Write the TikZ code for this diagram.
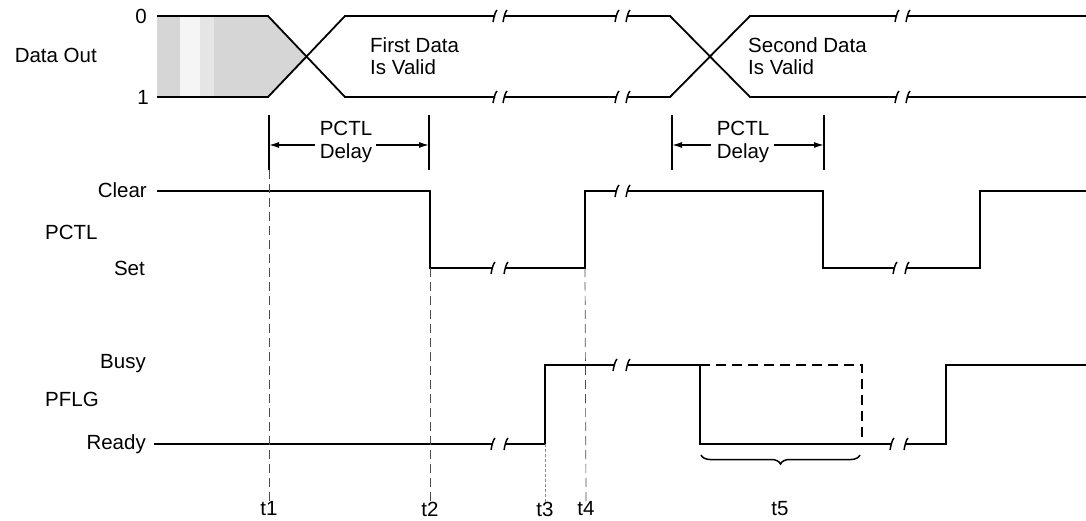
\documentclass[tikz,border=0pt]{standalone}
\usepackage{fontspec}
\setmainfont{Liberation Sans}
\usetikzlibrary{arrows.meta,decorations.pathreplacing}
\begin{document}
\begin{tikzpicture}[x=1pt,y=-1pt,
  lbl/.style={font=\fontsize{20.5}{22.5}\selectfont, inner sep=0pt},
  sig/.style={line width=1.8pt, line join=miter},
  tline/.style={line width=0.7pt, black!70, dash pattern=on 9pt off 5pt},
  dimbar/.style={line width=1.8pt},
  dimarrow/.style={line width=1.4pt, -{Latex[length=10pt,width=6pt]}},
  brk/.pic={\draw[line width=1.5pt] (-2,6) .. controls (-1,1) and (0,-4) .. (2,-6);}]
\useasboundingbox (0,0) rectangle (1086,521);
\newcommand{\brkpair}[3]{\pic at (#2,#1) {brk}; \pic at (#3,#1) {brk};}

% ---------------- Data Out ----------------
\fill[gray!32] (157,16) -- (268,16) -- (308,57) -- (268,97) -- (157,97) -- cycle;
\fill[gray!8] (180,17) rectangle (200,96);
\fill[gray!20] (200,17) rectangle (214,96);
\draw[sig] (157,16) -- (268,16) -- (345,97) -- (495,97);
\draw[sig] (505,97) -- (617,97);
\draw[sig] (628,97) -- (670,97) -- (750,16) -- (897,16);
\draw[sig] (908,16) -- (1086,16);
\draw[sig] (157,97) -- (268,97) -- (345,16) -- (495,16);
\draw[sig] (505,16) -- (617,16);
\draw[sig] (628,16) -- (670,16) -- (750,97) -- (897,97);
\draw[sig] (908,97) -- (1086,97);
\brkpair{16}{495}{505} \brkpair{16}{617}{628} \brkpair{16}{897}{908}
\brkpair{97}{495}{505} \brkpair{97}{617}{628} \brkpair{97}{897}{908}

\node[lbl, anchor=east] (dataout) at (97,55) {Data Out};
\node[lbl] (zero) at (141,16) {0};
\node[lbl] (one) at (143,97) {1};
\node[lbl, anchor=west, align=left] (first) at (370,56) {First Data\\Is Valid};
\node[lbl, anchor=west, align=left] (second) at (748,56) {Second Data\\Is Valid};

% ---------------- PCTL delay brackets ----------------
\coordinate (b1t) at (269,115); \coordinate (b1b) at (269,170);
\coordinate (b2t) at (429,115); \coordinate (b2b) at (429,170);
\draw[dimbar] (b1t) -- (b1b);
\draw[dimbar] (b2t) -- (b2b);
\node[lbl, align=center] (d1) at (346,142) {PCTL\\Delay};
\coordinate (a1l) at (269,145); \coordinate (a1r) at (429,145);
\coordinate (a1s) at (315,145); \coordinate (a1e) at (376,145);
\draw[dimarrow] (a1s) -- (a1l);
\draw[dimarrow] (a1e) -- (a1r);

\coordinate (b3t) at (672,115); \coordinate (b3b) at (672,170);
\coordinate (b4t) at (824,115); \coordinate (b4b) at (824,170);
\draw[dimbar] (b3t) -- (b3b);
\draw[dimbar] (b4t) -- (b4b);
\node[lbl, align=center] (d2) at (743,142) {PCTL\\Delay};
\coordinate (a2l) at (672,145); \coordinate (a2r) at (824,145);
\coordinate (a2s) at (711,145); \coordinate (a2e) at (774,145);
\draw[dimarrow] (a2s) -- (a2l);
\draw[dimarrow] (a2e) -- (a2r);

% ---------------- PCTL ----------------
\draw[sig] (157,191) -- (430,191) -- (430,268) -- (493,268);
\draw[sig] (506,268) -- (585,268) -- (585,191) -- (617,191);
\draw[sig] (628,191) -- (823,191) -- (823,268) -- (895,268);
\draw[sig] (907,268) -- (980,268) -- (980,191) -- (1086,191);
\brkpair{268}{493}{506} \brkpair{191}{617}{628} \brkpair{268}{895}{907}

\node[lbl, anchor=east] (clear) at (147,190) {Clear};
\node[lbl, anchor=west] (pctl) at (45,232) {PCTL};
\node[lbl, anchor=east] (set) at (145,268) {Set};

% ---------------- PFLG ----------------
\draw[sig] (154,444) -- (493,444);
\draw[sig] (506,444) -- (545,444) -- (545,365) -- (615,365);
\draw[sig] (628,365) -- (700,365) -- (700,444) -- (892,444);
\draw[sig] (906,444) -- (946,444) -- (946,365) -- (1086,365);
\brkpair{444}{493}{506} \brkpair{365}{615}{628} \brkpair{444}{892}{906}
\draw[line width=1.8pt, dash pattern=on 10pt off 6pt] (700,365) -- (862,365) -- (862,444);

\node[lbl, anchor=east] (busy) at (146,364) {Busy};
\node[lbl, anchor=west] (pflg) at (45,399) {PFLG};
\node[lbl, anchor=east] (ready) at (146,444) {Ready};

% brace
\draw[line width=1.5pt, decorate, decoration={brace, amplitude=9pt, mirror}] (701,455) -- (860,455);

% ---------------- time markers ----------------
\node[lbl] (t1) at (269,509) {t1};
\node[lbl] (t2) at (430,509) {t2};
\node[lbl] (t3) at (545,509) {t3};
\node[lbl] (t4) at (586,509) {t4};
\node[lbl] (t5) at (780,509) {t5};
\draw[tline] (b1b) -- (t1.north);
\draw[tline] (430,268) -- (t2.north);
\draw[tline, black!45, dash pattern=on 3pt off 2pt] (545,444) -- (t3.north);
\draw[tline] (585,268) -- (t4.north);
\end{tikzpicture}
\end{document}
